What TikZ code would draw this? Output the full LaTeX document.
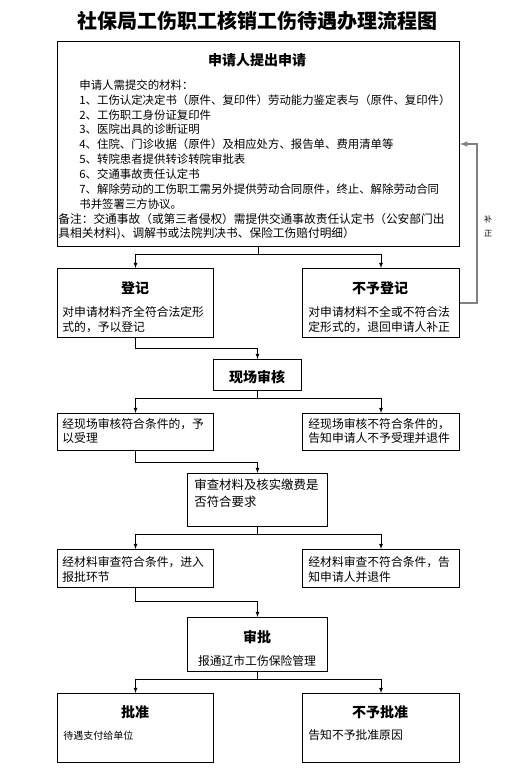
\documentclass[tikz,border=0pt]{standalone}
\usepackage{fontspec}
\setmainfont{Noto Sans CJK SC}
\usetikzlibrary{positioning,arrows}
\tikzset{box/.style={draw, line width=1pt, anchor=north west, inner sep=0},
    head/.style={font=\fontsize{14}{16}\selectfont\bfseries, inner sep=0},
    txt/.style={font=\fontsize{11.8}{15}\selectfont, align=left, anchor=west, inner sep=0},
    fb/.style={->, gray, line width=1.5pt}
}

\begin{document}
\begin{tikzpicture}[x=1pt,y=-1pt,>=latex,line width=0.8pt]
	\useasboundingbox (0,0) rectangle (521,775);
	\node[font=\fontsize{20}{22}\selectfont\bfseries] (T) at (257,21) {社保局工伤职工核销工伤待遇办理流程图};
	% boxes
	\node[box,minimum width=402,minimum height=205] (A) at (57,41) {};
	\node[box,minimum width=156,minimum height=69] (R1) at (57,268) {};
	\node[box,minimum width=157,minimum height=69] (N1) at (302,268) {};
	\node[box,minimum width=88,minimum height=31] (V) at (213,359) {};
	\node[box,minimum width=156,minimum height=37] (L2) at (57,413) {};
	\node[box,minimum width=157,minimum height=37] (N2) at (302,413) {};
	\node[box,minimum width=140,minimum height=53] (C) at (187,473) {};
	\node[box,minimum width=156,minimum height=38] (L3) at (57,549) {};
	\node[box,minimum width=157,minimum height=38] (N3) at (302,549) {};
	\node[box,minimum width=140,minimum height=54] (AP) at (187,617) {};
	\node[box,minimum width=156,minimum height=69] (Y) at (57,693) {};
	\node[box,minimum width=157,minimum height=69] (NY) at (302,693) {};
	% texts
	\node[head] (Ah) at (257,60) {申请人提出申请};
	\node[txt,font=\fontsize{11.4}{14.9}\selectfont] (At) at (79,144.5) {申请人需提交的材料：\\
		1、工伤认定决定书（原件、复印件）劳动能力鉴定表与（原件、复印件）\\
		2、工伤职工身份证复印件\\
		3、医院出具的诊断证明\\
		4、住院、门诊收据（原件）及相应处方、报告单、费用清单等\\
		5、转院患者提供转诊转院审批表\\
		6、交通事故责任认定书\\
		7、解除劳动的工伤职工需另外提供劳动合同原件，终止、解除劳动合同\\
		书并签署三方协议。};
	\node[txt,font=\fontsize{11.7}{14}\selectfont] (An) at (58,227) {备注：交通事故（或第三者侵权）需提供交通事故责任认定书（公安部门出\\
		具相关材料)、调解书或法院判决书、保险工伤赔付明细）};
	\node[head] (R1h) at (135,288) {登记};
	\node[txt] (R1t) at (62,319.5) {对申请材料齐全符合法定形\\式的，予以登记};
	\node[head] (N1h) at (380,288) {不予登记};
	\node[txt] (N1t) at (308,319.5) {对申请材料不全或不符合法\\定形式的，退回申请人补正};
	\node[head] (Vh) at (257,377) {现场审核};
	\node[txt,font=\fontsize{11.8}{14}\selectfont] (L2t) at (62,431) {经现场审核符合条件的，予\\以受理};
	\node[txt,font=\fontsize{11.8}{14}\selectfont] (N2t) at (308,431) {经现场审核不符合条件的，\\告知申请人不予受理并退件};
	\node[txt,font=\fontsize{12.4}{17}\selectfont] (Ct) at (194,493.5) {审查材料及核实缴费是\\否符合要求};
	\node[txt] (L3t) at (62,569.5) {经材料审查符合条件，进入\\报批环节};
	\node[txt] (N3t) at (308,569.5) {经材料审查不符合条件，告\\知申请人并退件};
	\node[head] (APh) at (257,637) {审批};
	\node[txt,anchor=center] (APt) at (257,661) {报通辽市工伤保险管理};
	\node[head] (Yh) at (135,712) {批准};
	\node[txt,font=\fontsize{10}{12}\selectfont] (Yt) at (63,736) {待遇支付给单位};
	\node[head] (NYh) at (380,712) {不予批准};
	\node[txt] (NYt) at (308,735) {告知不予批准原因};
	\node[font=\fontsize{8}{14}\selectfont, align=center, inner sep=0] (fix) at (488,226) {补\\正};
	% connectors
	\draw [->] (A.south) -- ++(0,7) -| (R1.north);
	\draw [->] (A.south) -- ++(0,7) -| (N1.north);
	\draw [fb] (N1.east) -- ++(17,0) |- (A.east);
	\draw [->] (R1.south) -- ++(0,10) -| (V.north);
	\draw [->] (V.south) -- ++(0,7) -| (L2.north);
	\draw [->] (V.south) -- ++(0,7) -| (N2.north);
	\draw [->] (L2.south) -- ++(0,11) -| (C.north);
	\draw [->] (C.south) -- ++(0,7) -| (L3.north);
	\draw [->] (C.south) -- ++(0,7) -| (N3.north);
	\draw [->] (L3.south) -- ++(0,13) -| (AP.north);
	\draw [->] (AP.south) -- ++(0,7) -| (Y.north);
	\draw [->] (AP.south) -- ++(0,7) -| (NY.north);
\end{tikzpicture}
\end{document}
